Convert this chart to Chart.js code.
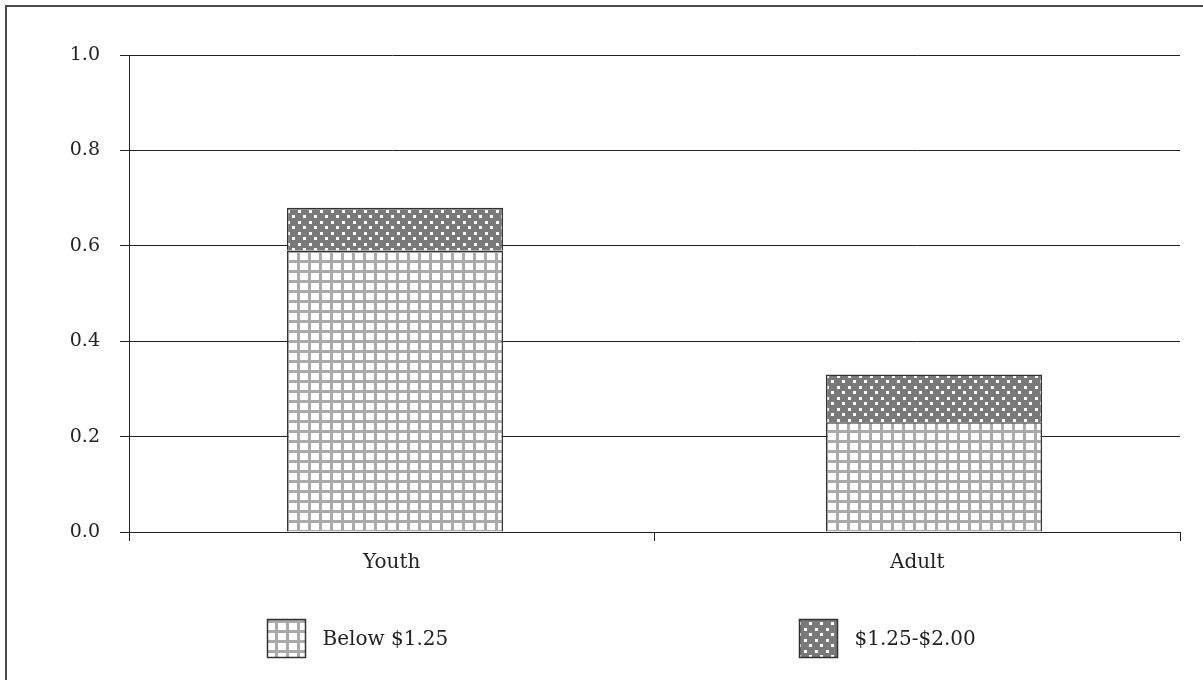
<!DOCTYPE html>
<html>
<head>
<meta charset="utf-8">
<title>Poverty rates: Youth vs Adult</title>
<script src="https://cdn.jsdelivr.net/npm/chart.js@4.4.1/dist/chart.umd.min.js"></script>
<style>
  html, body { margin: 0; padding: 0; background: #ffffff; }
  #wrap { position: relative; width: 1203px; height: 680px; }
  canvas { display: block; }
</style>
</head>
<body>
<div id="wrap"><canvas id="chart" width="1203" height="680"></canvas></div>
<script>
// Categories and series
const categories = ['Youth', 'Adult'];
const seriesLabels = ['Below $1.25', '$1.25-$2.00'];
const below125 = [0.59, 0.23];
const between125and200 = [0.09, 0.10];
const yTicks = [0.0, 0.2, 0.4, 0.6, 0.8, 1.0];

const FONT = 'DejaVu Serif';
const INK = '#222222';

// Bars sit on a hidden numeric axis indexed by category position
const toPoints = (values) => values.map((v, i) => ({ x: i, y: v }));

// Fill patterns: light grid for the lower band, dotted grey for the upper band
function gridPattern() {
  const c = document.createElement('canvas');
  c.width = 11; c.height = 10;
  const g = c.getContext('2d');
  g.fillStyle = '#ffffff';
  g.fillRect(0, 0, 11, 10);
  g.fillStyle = '#aaaaaa';
  g.fillRect(0, 0, 3, 10);
  g.fillRect(0, 0, 11, 3);
  return g.createPattern(c, 'repeat');
}
function dotPattern() {
  const c = document.createElement('canvas');
  c.width = 11; c.height = 11;
  const g = c.getContext('2d');
  g.fillStyle = '#797979';
  g.fillRect(0, 0, 11, 11);
  g.fillStyle = '#ffffff';
  g.fillRect(1, 1, 3, 3);
  g.fillRect(6, 6, 3, 3);
  return g.createPattern(c, 'repeat');
}
const fills = [gridPattern(), dotPattern()];

// Outer frame (left and top rules)
const framePlugin = {
  id: 'frame',
  beforeDraw(chart) {
    const ctx = chart.ctx;
    ctx.save();
    ctx.strokeStyle = '#4a4a4a';
    ctx.lineWidth = 2;
    ctx.beginPath();
    ctx.moveTo(6, chart.height);
    ctx.lineTo(6, 6);
    ctx.lineTo(chart.width, 6);
    ctx.stroke();
    ctx.restore();
  }
};

// Legend drawn under the plot, one swatch per series
const bottomLegend = {
  id: 'bottomLegend',
  afterDraw(chart, args, opts) {
    const ctx = chart.ctx;
    const area = chart.chartArea;
    ctx.save();
    chart.data.datasets.forEach((ds, i) => {
      const x = Math.round(area.left + (area.right - area.left) * opts.positions[i]) + 0.5;
      const y = opts.top + 0.5;
      const s = opts.box;
      ctx.fillStyle = ds.backgroundColor;
      ctx.fillRect(x, y, s, s);
      ctx.strokeStyle = '#333333';
      ctx.lineWidth = 1.5;
      ctx.strokeRect(x, y, s, s);
      ctx.fillStyle = INK;
      ctx.font = opts.fontSize + 'px "' + FONT + '"';
      ctx.textAlign = 'left';
      ctx.textBaseline = 'middle';
      ctx.fillText(ds.label, x + s + 17, y + s / 2 + 1);
    });
    ctx.restore();
  }
};

new Chart(document.getElementById('chart'), {
  type: 'bar',
  data: {
    labels: categories,
    datasets: [
      {
        label: seriesLabels[0],
        data: toPoints(below125),
        xAxisID: 'xb',
        backgroundColor: fills[0],
        borderColor: '#333333',
        borderWidth: 1.5,
        borderSkipped: 'start'
      },
      {
        label: seriesLabels[1],
        data: toPoints(between125and200),
        xAxisID: 'xb',
        backgroundColor: fills[1],
        borderColor: '#333333',
        borderWidth: 1.5,
        borderSkipped: 'start'
      }
    ]
  },
  options: {
    responsive: false,
    animation: false,
    devicePixelRatio: 1,
    layout: { padding: { top: 55, right: 23, bottom: 0, left: 0 } },
    datasets: { bar: { categoryPercentage: 1.0, barPercentage: 0.4007 } },
    plugins: {
      legend: { display: false },
      tooltip: { enabled: false },
      bottomLegend: { positions: [0.1313, 0.6375], top: 619, box: 38, fontSize: 20 }
    },
    scales: {
      x: {
        type: 'category',
        position: 'bottom',
        afterFit(scale) { scale.height = 148; },
        grid: {
          offset: true,
          drawOnChartArea: false,
          drawTicks: true,
          tickLength: 9,
          color: INK,
          lineWidth: 1
        },
        border: { display: true, color: INK, width: 1 },
        ticks: {
          padding: 10,
          color: INK,
          font: { family: FONT, size: 20 }
        }
      },
      xb: {
        type: 'linear',
        position: 'bottom',
        display: false,
        stacked: true,
        offset: false,
        bounds: 'data',
        grace: 0,
        min: -0.4935,
        max: 1.4564,
        afterBuildTicks(scale) { scale.ticks = [{ value: scale.min }, { value: scale.max }]; }
      },
      y: {
        stacked: true,
        min: 0,
        max: 1,
        afterFit(scale) { scale.width = 129; },
        afterBuildTicks(scale) { scale.ticks = yTicks.map(v => ({ value: v })); },
        grid: {
          drawTicks: true,
          tickLength: 9,
          color: INK,
          lineWidth: 1
        },
        border: { display: true, color: INK, width: 1 },
        ticks: {
          padding: 20,
          color: INK,
          font: { family: FONT, size: 19 },
          callback: (v) => Number(v).toFixed(1)
        }
      }
    }
  },
  plugins: [framePlugin, bottomLegend]
});
</script>
</body>
</html>
